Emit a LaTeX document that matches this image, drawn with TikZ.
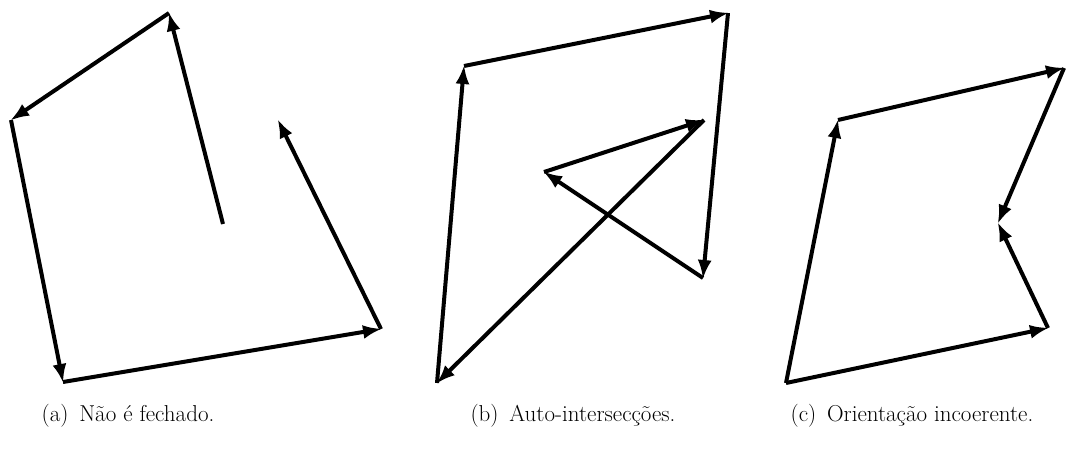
\documentclass[tikz,border=0pt]{standalone}
\usetikzlibrary{arrows.meta}
\begin{document}
\begin{tikzpicture}[x=1pt,y=-1pt,
  edge/.style={line width=4pt,-{Latex[length=19pt,width=14pt]},shorten >=-1pt},
  captext/.style={font=\fontsize{23}{27}\selectfont,anchor=base}]
\useasboundingbox (0,0) rectangle (1088,450);
% (a)
\coordinate (a0) at (223,224);
\coordinate (a1) at (169,13);
\coordinate (a2) at (11,120);
\coordinate (a3) at (63,382);
\coordinate (a4) at (381,329);
\coordinate (a5) at (278,120);
\draw[edge] (a0) -- (a1);
\draw[edge] (a1) -- (a2);
\draw[edge] (a2) -- (a3);
\draw[edge] (a3) -- (a4);
\draw[edge] (a4) -- (a5);
% (b)
\coordinate (b0) at (437,383);
\coordinate (b1) at (464,66);
\coordinate (b2) at (728,13);
\coordinate (b3) at (703,278);
\coordinate (b4) at (544,172);
\coordinate (b5) at (704,120);
\draw[edge] (b0) -- (b1);
\draw[edge] (b1) -- (b2);
\draw[edge] (b2) -- (b3);
\draw[edge] (b3) -- (b4);
\draw[edge] (b4) -- (b5);
\draw[edge] (b5) -- (b0);
% (c)
\coordinate (c0) at (786,383);
\coordinate (c1) at (838,120);
\coordinate (c2) at (1064,68);
\coordinate (c3) at (998,223);
\coordinate (c4) at (1048,328);
\draw[edge] (c0) -- (c1);
\draw[edge] (c1) -- (c2);
\draw[edge] (c2) -- (c3);
\draw[edge] (c4) -- (c3);
\draw[edge] (c0) -- (c4);
% captions
\node[captext] (capa) at (128,421) {(a)\, Não é fechado.};
\node[captext] (capb) at (573,421) {(b)\, Auto-intersecções.};
\node[captext] (capc) at (912,421) {(c)\, Orientação incoerente.};
\end{tikzpicture}
\end{document}
